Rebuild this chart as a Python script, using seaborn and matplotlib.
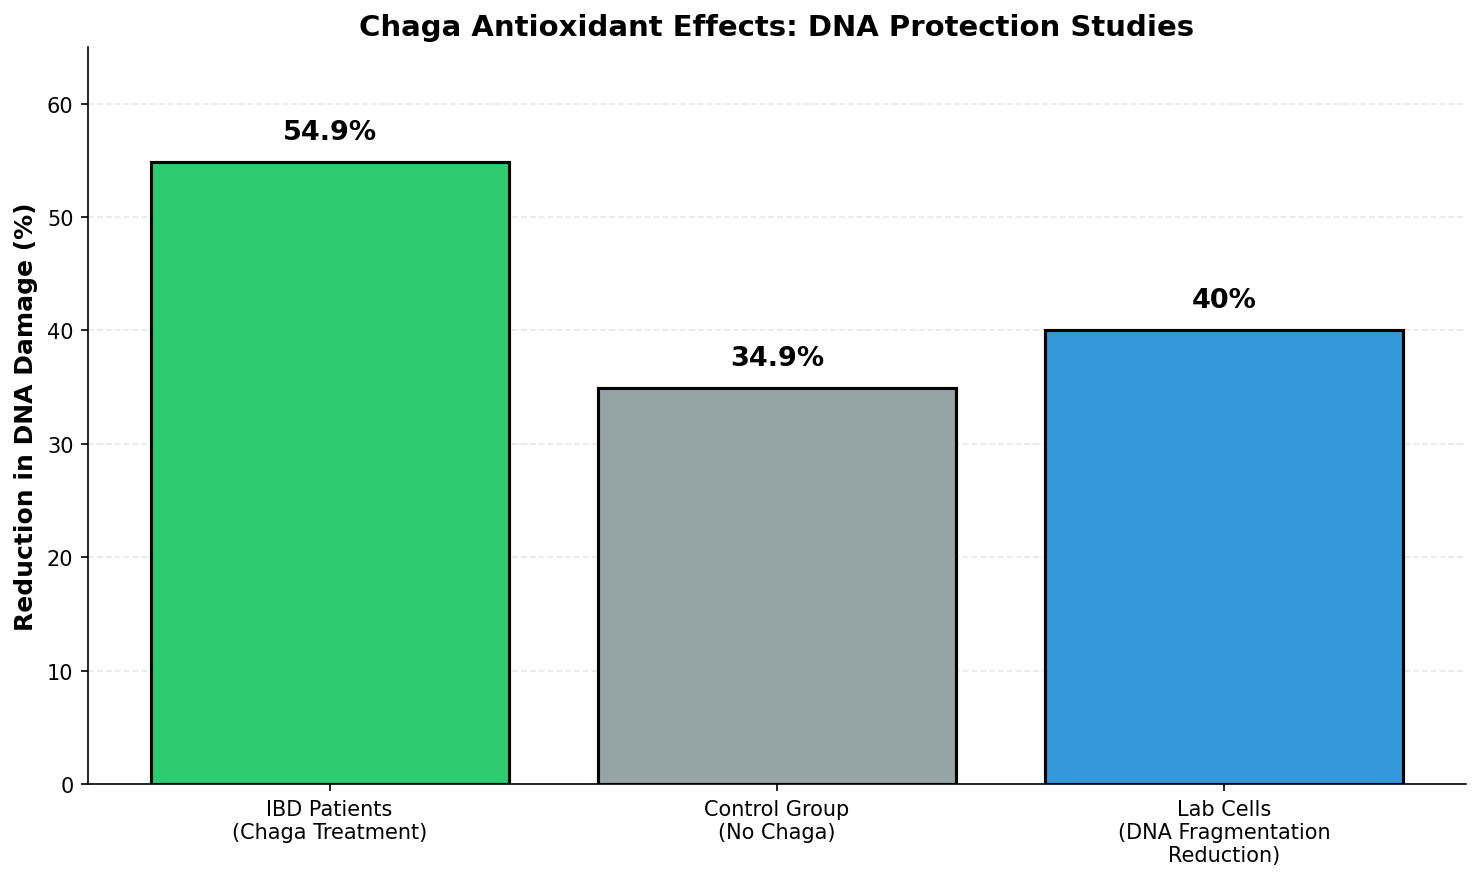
import pandas as pd
import matplotlib.pyplot as plt
import seaborn as sns

# Data
CATEGORIES = [
    "IBD Patients\n(Chaga Treatment)",
    "Control Group\n(No Chaga)",
    "Lab Cells\n(DNA Fragmentation\nReduction)",
]
REDUCTION = [54.9, 34.9, 40]
VALUE_LABELS = ["54.9%", "34.9%", "40%"]
COLORS = ["#2ecc71", "#95a5a6", "#3498db"]

plt.rcParams["font.family"] = ["DejaVu Sans"]

df = pd.DataFrame({"category": CATEGORIES, "reduction": REDUCTION})

fig, ax = plt.subplots(figsize=(9.88, 5.873), dpi=150)
sns.barplot(
    data=df,
    x="category",
    y="reduction",
    hue="category",
    palette=COLORS,
    legend=False,
    width=0.8,
    saturation=1,
    edgecolor="black",
    linewidth=1.5,
    ax=ax,
)

for i, (val, lab) in enumerate(zip(REDUCTION, VALUE_LABELS)):
    ax.text(i, val + 1.5, lab, ha="center", va="bottom",
            fontsize=13, fontweight="bold")

ax.set_title("Chaga Antioxidant Effects: DNA Protection Studies",
             fontsize=14, fontweight="bold")
ax.set_ylabel("Reduction in DNA Damage (%)", fontsize=12, fontweight="bold")
ax.set_xlabel(None)
ax.set_ylim(0, 65)
ax.set_xlim(-0.54, 2.54)
ax.tick_params(labelsize=10)
ax.yaxis.grid(True, linestyle="--", alpha=0.3)
ax.set_axisbelow(True)
sns.despine(ax=ax)

fig.subplots_adjust(left=0.0594, right=0.9892, top=0.9455, bottom=0.109)
plt.savefig("out.png", dpi=150)
